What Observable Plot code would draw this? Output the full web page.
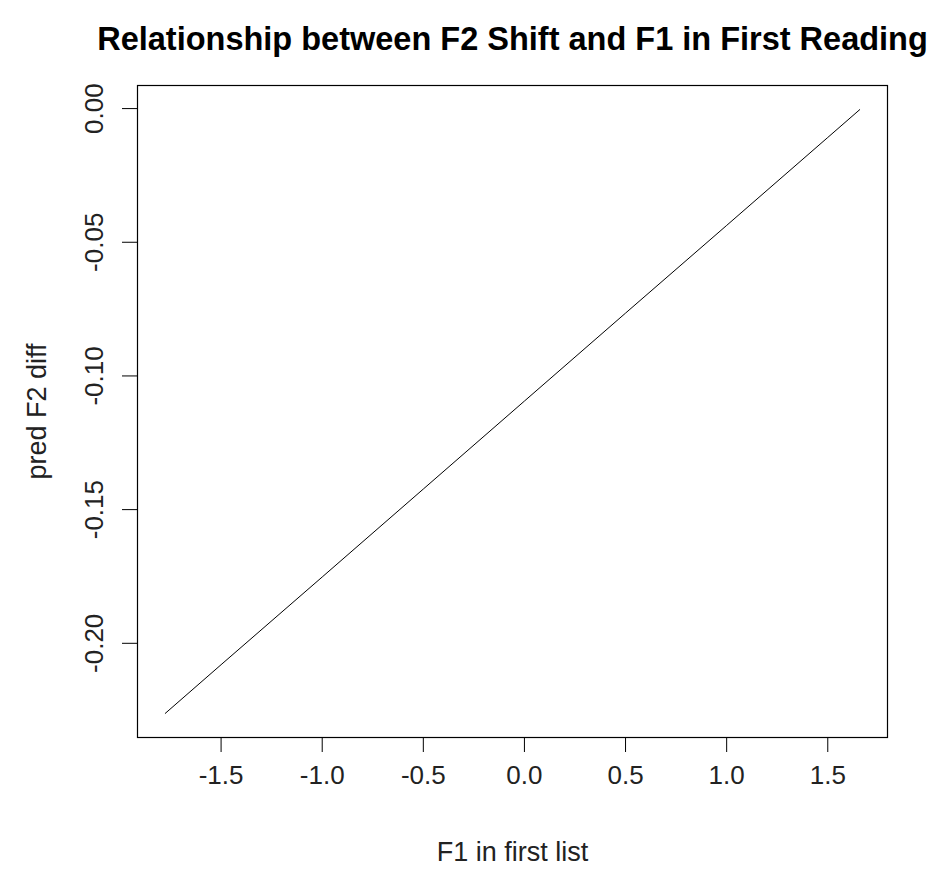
<!DOCTYPE html>
<html>
<head>
<meta charset="utf-8">
<script src="https://cdn.jsdelivr.net/npm/d3@7"></script>
<script src="https://cdn.jsdelivr.net/npm/@observablehq/plot@0.6"></script>
<style>
  html, body { margin: 0; padding: 0; background: #fff; }
</style>
</head>
<body>
<div id="chart"></div>
<script>
// Data
const f1Values = [-1.776, -1.5, -1.0, -0.5, 0.0, 0.5, 1.0, 1.5, 1.658];
const predF2Diff = [-0.2262, -0.2080, -0.1752, -0.1423, -0.1094, -0.0765, -0.0437, -0.0108, -0.0004];
const xTicks = [-1.5, -1.0, -0.5, 0.0, 0.5, 1.0, 1.5];
const yTicks = [0.00, -0.05, -0.10, -0.15, -0.20];
const titleText = "Relationship between F2 Shift and F1 in First Reading";
const xLabel = "F1 in first list";
const yLabel = "pred F2 diff";

const data = f1Values.map((x, i) => ({x, y: predF2Diff[i]}));

// R-style 4% axis padding
function pad(vals) {
  const lo = d3.min(vals), hi = d3.max(vals), r = hi - lo;
  return [lo - 0.04 * r, hi + 0.04 * r];
}

const font = "'Liberation Sans', Arial, Helvetica, sans-serif";

const chart = Plot.plot({
  width: 935,
  height: 869,
  marginLeft: 137,
  marginRight: 48,
  marginTop: 85,
  marginBottom: 132,
  style: {fontFamily: font, background: "#fff", color: "#000"},
  x: {domain: pad(f1Values)},
  y: {domain: pad(predF2Diff)},
  marks: [
    Plot.axisX({ticks: xTicks, tickSize: 15, tickPadding: 13, fontSize: 26, tickFormat: d => d.toFixed(1), label: null, stroke: "#000", fill: "#222"}),
    Plot.axisY({ticks: yTicks, tickSize: 15, tickPadding: 20, fontSize: 26, tickRotate: -90, tickFormat: d => d.toFixed(2), label: null, stroke: "#000", fill: "#222"}),
    Plot.frame({stroke: "#000", strokeWidth: 1.2}),
    Plot.line(data, {x: "x", y: "y", stroke: "#000", strokeWidth: 1}),
    Plot.text([xLabel], {frameAnchor: "bottom", dy: 115, lineAnchor: "middle", fontSize: 27, fill: "#222"}),
    Plot.text([yLabel], {frameAnchor: "left", dx: -100, rotate: -90, textAnchor: "middle", lineAnchor: "middle", fontSize: 27, fill: "#222"}),
    Plot.text([titleText], {frameAnchor: "top", dy: -46, lineAnchor: "middle", fontSize: 32.5, fontWeight: "bold", fill: "#000"})
  ]
});

document.getElementById("chart").appendChild(chart);
</script>
</body>
</html>
